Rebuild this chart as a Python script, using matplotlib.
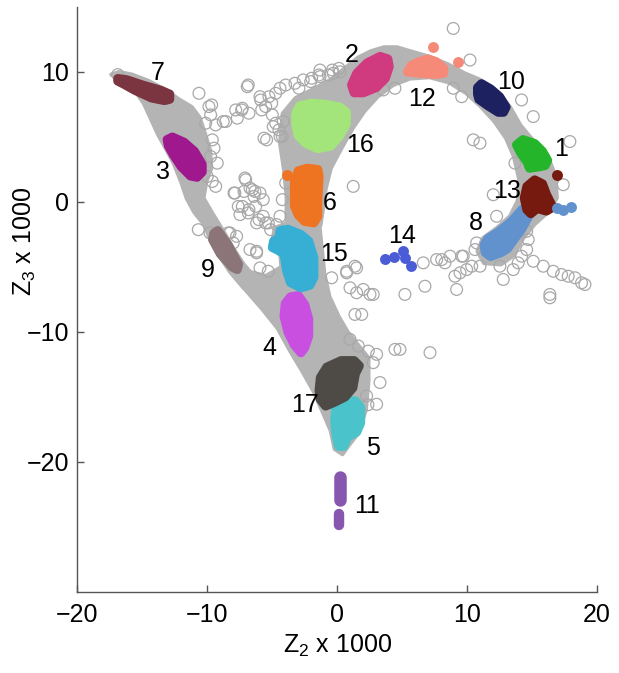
import matplotlib
matplotlib.use("Agg")
import matplotlib.pyplot as plt

plt.rcParams['font.family'] = ['Liberation Sans', 'DejaVu Sans']
plt.rcParams['mathtext.fontset'] = 'custom'
plt.rcParams['mathtext.rm'] = 'Liberation Sans'
plt.rcParams['mathtext.it'] = 'Liberation Sans:italic'

# ---------------- gray manifold (dense region) outlines ----------------
band_left_x = [-17.4, -16.6, -15.6, -14.9, -14.3, -13.8, -13.3, -12.6, -12.0, -11.6, -11.0, -10.2, -9.9, -9.3, -8.3, -7.2,
               -6.2, -7.2, -8.0, -8.8, -9.6, -10.3, -10.1, -9.7, -9.8, -10.2, -10.6, -11.2, -12.2, -13.2, -14.5, -15.8, -16.8]
band_left_y = [9.8, 9.3, 8.6, 7.6, 6.3, 5.2, 4.3, 3.0, 1.5, 0.3, -0.8, -1.8, -2.6, -3.8, -5.3, -6.6,
               -6.0, -4.8, -3.6, -2.2, -0.9, 0.3, 1.5, 2.6, 4.0, 5.3, 6.5, 7.3, 7.9, 8.6, 9.3, 9.8, 10.0]

band_low_x = [-8.3, -7.0, -5.5, -4.3, -4.4, -5.0, -4.8, -3.8, -1.4, -1.2, -1.0, -0.6, 0.1, 0.8, 1.6, 2.4, 2.4, 2.2, 1.6,
              0.9, 0.4, -0.2, -0.5, -1.1, -1.8, -2.7, -3.6, -4.6, -5.8, -7.2]
band_low_y = [-5.3, -5.3, -5.7, -5.0, -3.8, -3.0, -2.0, -1.6, -1.6, -3.5, -5.5, -7.3, -8.8, -10.0, -11.0, -12.0, -13.8,
              -16.0, -17.8, -18.7, -19.4, -19.0, -17.6, -16.2, -14.6, -13.0, -11.5, -9.7, -8.2, -6.6]

band_arc_x = [-3.9, -3.9, -4.1, -4.4, -4.2, -3.2, -1.8, -0.5, 0.6, 1.6, 2.6, 3.6, 4.6, 5.6, 7.0, 8.5, 9.8, 11.0, 12.2,
              13.3, 14.1, 15.1, 16.2, 16.8, 16.9, 16.2, 15.2, 14.3, 13.6, 12.6, 11.3, 10.8,
              11.2, 12.3, 13.3, 13.9, 14.0, 13.6, 13.0, 12.1, 11.0, 9.9, 8.6, 7.1, 5.6, 4.3, 3.1, 2.1, 1.2, 0.3,
              -0.5, -0.9, -1.1, -1.3]
band_arc_y = [-1.8, 0.5, 2.5, 4.5, 6.8, 8.0, 8.7, 9.4, 10.3, 11.1, 11.6, 11.9, 11.9, 11.6, 11.2, 10.6, 9.9, 9.4, 8.6,
              7.3, 5.9, 4.7, 3.5, 2.0, 0.3, -0.8, -1.7, -2.8, -4.1, -4.8, -4.7, -3.8,
              -2.8, -2.0, -1.1, 0.1, 1.8, 3.5, 4.9, 6.2, 7.4, 8.4, 9.2, 9.6, 9.5, 9.0, 8.1, 7.0, 5.7, 4.1,
              2.6, 1.0, -0.5, -1.8]

# ---------------- scattered open circles ----------------
open_x = [-10.65, -9.88, -9.75, -10.13, -9.36, -8.59, -7.70, -7.82, -7.31, -6.80, -6.93, -5.90, -5.26, -4.74, -3.97,
          -2.95, -2.05, -1.41, -0.38, 0.13, -5.51, -5.00, -4.74, -4.49, -5.64, -4.23, -9.62, -9.49, -9.75, -9.24,
          -10.01, -9.62, -9.36, -7.05, -7.18, -6.54, -6.41, -6.28, -7.95, -7.31, -6.80, -6.03, -5.51, -5.13, -3.97,
          -4.23, -9.67, -8.78, -7.36, -6.85, -5.95, -5.82, -5.05, -4.41, -3.26, -2.62, -1.97, -1.33, -0.69, -0.31,
          0.21, -5.44, -4.93, -4.41, -4.16, -7.11, -6.72, -6.34, -5.95, -5.70, -7.88, -7.62, -7.49, -6.85, -6.21,
          -5.70, -5.31, -4.67, -4.41, 1.23, -8.26, -8.01, -6.21, -10.70, -9.80, -8.39, -7.75, -6.72, -6.21, -5.95,
          -5.31, -0.43, 0.72, 1.49, 0.98, 2.00, 2.77, 1.36, 1.88, 4.44, 3.03, 2.77, 3.29, 3.03, 2.26, 0.98, 1.62,
          2.39, 8.93, 10.22, 4.44, 3.54, 8.93, 9.58, 10.47, 10.99, 14.19, 15.09, 17.91, 17.40, 12.01, -1.33,
          6.62, 7.65, 8.29, 8.68, 9.58, 10.99, 5.21, 1.36, 0.72, 1.49, 2.52, 16.37, 13.68, 12.27, 8.04, 9.70,
          9.06, 9.45, 9.96, 10.35, 10.60, 10.73, 9.19, 6.75, 12.52, 12.78, 13.55, 13.93, 14.19, 14.58, 14.70,
          14.58, 15.09, 15.86, 16.63, 17.27, 17.78, 18.30, 18.81, 19.07, 16.37, 7.14, 4.83, 2.36, -16.9]
open_y = [8.36, 7.34, 6.70, 6.06, 5.93, 6.19, 6.45, 7.08, 7.21, 6.83, 8.87, 7.85, 8.10, 8.36, 9.00,
          8.75, 9.26, 9.77, 10.15, 10.28, 7.34, 6.70, 6.06, 5.55, 4.91, 5.04, 4.78, 4.14, 3.50, 2.99,
          1.96, 1.58, 1.20, 1.71, 0.81, 0.94, 0.43, -0.34, 0.69, -0.34, -0.59, -1.36, -1.61, -2.13, 1.46,
          0.18, 7.47, 6.19, 7.08, 9.00, 8.10, 7.08, 7.60, 8.75, 9.13, 9.39, 9.52, 9.64, 9.77, 9.90,
          10.02, 4.78, 5.80, 5.04, 6.19, 1.84, 1.07, 0.81, 0.69, 0.18, 0.69, -0.34, -0.97, -0.84, -1.61,
          -1.10, -1.61, -1.74, -1.10, 1.20, -2.38, -3.15, -3.79, -2.13, -2.38, -2.38, -2.64, -3.66, -3.91, -5.07,
          -5.33, -5.83, -5.33, -5.07, -6.60, -6.73, -7.11, -8.65, -8.65, -11.34, -11.72, -12.36, -13.89, -15.56,
          -14.92, -10.57, -11.08, -11.47, 13.35, 10.92, 8.75, 8.62, 8.75, 8.10, 4.78, 4.53, 7.85, 6.57, 4.65,
          1.33, 0.56, 10.15, -4.68, -4.43, -4.68, -4.17, -4.17, -4.94, -7.11, -4.94, -5.45, -6.98, -7.11,
          -7.11, 2.99, -1.10, -4.43, -4.17, -5.71, -5.45, -5.20, -4.94, -3.66, -3.15, -6.73, -6.48, -4.94,
          -5.96, -5.20, -4.68, -4.17, -3.66, -2.89, -2.26, -4.56, -4.94, -5.33, -5.58, -5.71, -5.83, -6.22,
          -6.35, -7.37, -11.59, -11.34, -15.6, 9.8]

# ---------------- clusters (outlines) ----------------
c1_x = [13.8, 14.3, 15.2, 15.8, 16.2, 16.0, 15.5, 14.8, 14.6, 14.1]
c1_y = [4.4, 4.8, 4.5, 3.9, 3.2, 2.8, 2.7, 2.6, 3.1, 3.8]
c2_x = [1.1, 1.5, 2.3, 3.3, 3.9, 4.0, 3.7, 3.0, 2.0, 1.3]
c2_y = [9.0, 9.9, 10.7, 11.2, 11.0, 10.4, 9.5, 8.8, 8.4, 8.4]
c3_x = [-13.1, -12.7, -11.8, -11.0, -10.4, -10.4, -10.8, -11.3, -12.0, -12.6, -13.0]
c3_y = [4.8, 5.0, 4.6, 3.9, 2.9, 2.3, 1.9, 2.0, 2.7, 3.6, 4.3]
c4_x = [-3.6, -3.0, -2.5, -2.2, -2.2, -2.5, -2.8, -3.3, -3.8, -4.1, -4.0]
c4_y = [-7.3, -7.2, -7.9, -9.0, -10.3, -11.2, -11.6, -11.0, -10.0, -8.8, -7.8]
c5_x = [-0.1, 0.4, 1.4, 1.8, 1.8, 1.5, 0.8, 0.5, 0.1, -0.1, -0.2]
c5_y = [-15.7, -15.3, -15.3, -15.8, -17.0, -17.7, -18.1, -18.8, -18.8, -17.9, -16.8]
c6_x = [-3.3, -3.0, -2.3, -1.5, -1.4, -1.5, -1.5, -1.8, -2.5, -3.0, -3.3, -3.3]
c6_y = [1.5, 2.4, 2.6, 2.5, 2.0, 0.0, -1.1, -1.6, -1.5, -1.0, -0.3, 0.8]
c7_x = [-16.9, -16.2, -15.0, -13.6, -12.9, -12.9, -13.3, -14.3, -15.6, -16.5, -16.9]
c7_y = [9.5, 9.4, 9.0, 8.6, 8.3, 7.9, 7.8, 8.0, 8.6, 9.1, 9.3]
c8_x = [11.6, 12.4, 13.4, 14.2, 14.7, 14.9, 14.2, 13.6, 13.1, 12.6, 11.8, 11.4, 11.3]
c8_y = [-2.8, -2.3, -1.5, -0.6, -0.3, -0.8, -2.1, -2.9, -3.6, -3.9, -4.2, -3.9, -3.3]
c9_x = [-9.5, -9.2, -8.4, -7.6, -7.7, -8.1, -9.0, -9.6]
c9_y = [-2.4, -2.2, -3.3, -4.8, -5.2, -5.0, -4.0, -2.9]
c10_x = [10.8, 11.1, 11.8, 12.5, 13.0, 12.8, 12.4, 11.6, 10.9, 10.8]
c10_y = [8.8, 9.1, 8.7, 8.1, 7.3, 6.9, 6.9, 7.4, 7.9, 8.3]
c11a_x = [0.2, 0.2]
c11a_y = [-21.15, -22.95]
c11b_x = [0.15, 0.15]
c11b_y = [-24.0, -24.85]
c12_x = [5.4, 5.7, 6.3, 7.0, 7.6, 8.2, 8.2, 7.6, 6.3]
c12_y = [10.0, 10.5, 10.8, 11.0, 10.8, 10.3, 9.9, 9.8, 9.9]
c12_dot_x = [7.4, 9.3]
c12_dot_y = [11.9, 10.8]
c13_x = [14.6, 15.2, 15.8, 16.1, 16.6, 16.1, 15.4, 14.9, 14.6, 14.4]
c13_y = [1.2, 1.7, 1.4, 0.6, -0.4, -0.7, -0.5, -0.9, -0.6, 0.3]
c13_dot_x = [16.9]
c13_dot_y = [2.1]
c8_dot_x = [16.9, 17.4, 18.0]
c8_dot_y = [-0.5, -0.6, -0.4]
c14_x = [3.7, 4.4, 5.05, 5.2, 5.7]
c14_y = [-4.4, -4.2, -3.8, -4.3, -4.9]
c15_x = [-4.4, -3.8, -2.8, -2.2, -1.8, -1.8, -2.1, -2.8, -3.6, -3.9, -4.1, -4.6, -5.0, -4.9, -4.5]
c15_y = [-2.2, -2.1, -2.5, -3.0, -4.3, -5.8, -6.4, -6.6, -6.2, -5.3, -4.0, -3.7, -3.5, -3.0, -2.8]
c16_x = [-3.2, -2.9, -2.0, -0.8, 0.2, 0.7, 0.7, 0.2, -0.5, -1.5, -2.4, -3.0, -3.2]
c16_y = [6.8, 7.4, 7.6, 7.5, 7.3, 6.9, 6.0, 5.1, 4.3, 4.1, 4.5, 5.1, 6.0]
c17_x = [-1.3, -0.8, 0.3, 1.3, 1.7, 1.4, 1.2, 0.6, -0.2, -0.9, -1.3, -1.4]
c17_y = [-13.5, -12.7, -12.2, -12.2, -12.6, -13.2, -14.3, -15.0, -15.4, -15.7, -15.2, -14.5]
c6_dot_x = [-3.9]
c6_dot_y = [2.1]

labels = ['1', '2', '3', '4', '5', '6', '7', '8', '9', '10', '11', '12', '13', '14', '15', '16', '17']
label_x = [17.2, 1.13, -13.4, -5.2, 2.75, -0.56, -13.8, 10.7, -9.95, 13.4, 2.3, 6.5, 13.1, 5.0, -0.25, 1.75, -2.5]
label_y = [4.1, 11.3, 2.3, -11.2, -18.9, -0.05, 9.9, -1.6, -5.2, 9.2, -23.4, 7.9, 0.86, -2.65, -4.0, 4.4, -15.6]

colors = ['#24B52B', '#D03B80', '#A0188D', '#C84FE0', '#4BC3CA', '#EE7421', '#7B3540', '#6192CE', '#8C7578',
          '#1E2160', '#8756AE', '#F68A78', '#761A10', '#4B5DD6', '#37AED3', '#A3E57A', '#4E4B47']

GRAY = '#B4B4B4'
FS = 18

fig = plt.figure(figsize=(6.19, 6.73), dpi=100)
ax = fig.add_axes([0.1252, 0.1204, 0.8393, 0.8692])

for bx, by in [(band_left_x, band_left_y), (band_low_x, band_low_y), (band_arc_x, band_arc_y)]:
    ax.fill(bx, by, color=GRAY, lw=3, ec=GRAY, joinstyle='round', zorder=1)

ax.scatter(open_x, open_y, s=72, facecolors='none', edgecolors='#A8A8A8', linewidths=0.9, zorder=2)

blobs = [(c1_x, c1_y, 0), (c2_x, c2_y, 1), (c3_x, c3_y, 2), (c4_x, c4_y, 3), (c5_x, c5_y, 4), (c6_x, c6_y, 5),
         (c7_x, c7_y, 6), (c8_x, c8_y, 7), (c9_x, c9_y, 8), (c10_x, c10_y, 9), (c12_x, c12_y, 11),
         (c13_x, c13_y, 12), (c15_x, c15_y, 14), (c16_x, c16_y, 15), (c17_x, c17_y, 16)]
for bx, by, ci in blobs:
    ax.fill(bx, by, color=colors[ci], ec=colors[ci], lw=6.5, joinstyle='round', zorder=3)

ax.plot(c11a_x, c11a_y, color=colors[10], lw=9, solid_capstyle='round', zorder=3)
ax.plot(c11b_x, c11b_y, color=colors[10], lw=7.5, solid_capstyle='round', zorder=3)

dots = [(c12_dot_x, c12_dot_y, 11), (c13_dot_x, c13_dot_y, 12),
        (c8_dot_x, c8_dot_y, 7), (c14_x, c14_y, 13), (c6_dot_x, c6_dot_y, 5)]
for dx, dy, ci in dots:
    ax.scatter(dx, dy, s=62, color=colors[ci], lw=0, zorder=3)

for t, lx, ly in zip(labels, label_x, label_y):
    ax.text(lx, ly, t, fontsize=FS, ha='center', va='center', zorder=5)

ax.set_xlim(-20, 20)
ax.set_ylim(-30, 15)
ax.set_xticks([-20, -10, 0, 10, 20])
ax.set_yticks([-20, -10, 0, 10])
for s in ['top', 'right']:
    ax.spines[s].set_visible(False)
for s in ['left', 'bottom']:
    ax.spines[s].set_color('#555555')
    ax.spines[s].set_linewidth(1.0)
ax.tick_params(direction='in', length=5, width=1, color='#555555', labelsize=FS)
ax.tick_params(axis='x', pad=8)
ax.tick_params(axis='y', pad=6)
ax.set_xlabel(r'$\mathregular{Z_2}$ x 1000', fontsize=FS, labelpad=4)
ax.set_ylabel(r'$\mathregular{Z_3}$ x 1000', fontsize=FS)
ax.yaxis.set_label_coords(-0.076, 0.6)

fig.savefig('out.png', dpi=100)
